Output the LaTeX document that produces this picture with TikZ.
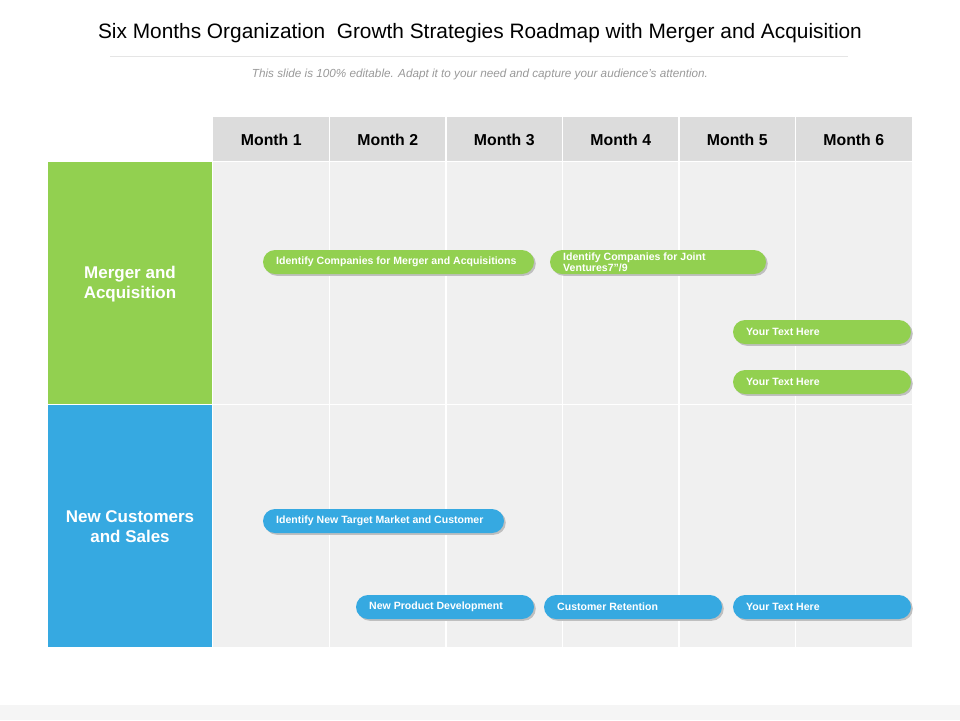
\documentclass[tikz,border=0pt]{standalone}
\usepackage{fontspec}
\setmainfont{Liberation Sans}
\definecolor{barG}{HTML}{92D050}
\definecolor{barB}{HTML}{36A9E1}
\definecolor{gridbg}{HTML}{F0F0F0}
\definecolor{headbg}{HTML}{DCDCDC}
\tikzset{
  bar/.style={rounded corners=12*0.03cm,
    preaction={fill=black!25,transform canvas={xshift=1.5pt,yshift=-1.5pt}}},
  greenbar/.style={bar,fill=barG},
  bluebar/.style={bar,fill=barB},
  bartext/.style={anchor=west,align=left,inner sep=0pt,text=white,font=\fontsize{9}{9.5}\selectfont\bfseries},
  monthhead/.style={font=\fontsize{13.5}{15}\selectfont\bfseries},
  rowhead/.style={text=white,font=\fontsize{14.5}{17}\selectfont\bfseries,align=center}
}
\newcommand{\roadbar}[6]{% style, name, x1, x2, y, text
  \fill[#1] (#3,#5-12) rectangle (#4,#5+12);
  \node[bartext] (#2) at (#3+13,#5) {#6};
}
\begin{document}
\begin{tikzpicture}[x=0.03cm,y=-0.03cm]
  \useasboundingbox (0,0) rectangle (960,720);
  % title
  \node (title) at (480,33) {\fontsize{17.8}{20}\selectfont Six Months Organization\ \ Growth Strategies Roadmap with Merger and Acquisition};
  \draw[black!10] (110,56) -- (848,56);
  \node[text=black!40] (sub) at (480,74) {\fontsize{10}{12}\selectfont\itshape This slide is 100\% editable. Adapt it to your need and capture your audience's attention.};
  % grid
  \fill[headbg] (213,117) rectangle (912,161);
  \fill[gridbg] (213,162) rectangle (912,647);
  \foreach \i in {1,...,5}
    \draw[white,line width=1pt] (213+116.5*\i,117) -- (213+116.5*\i,647);
  \draw[white,line width=1pt] (213,404.5) -- (912,404.5);
  \foreach \i in {1,...,6}
    \node[monthhead] (m\i) at (213+116.5*\i-58.25,140) {Month \i};
  % row labels
  \fill[barG] (48,162) rectangle (212,404);
  \node[rowhead] (rowma) at (130,284) {Merger and\\Acquisition};
  \fill[barB] (48,405) rectangle (212,647);
  \node[rowhead] (rownc) at (130,527) {New Customers\\and Sales};
  % bars
  \roadbar{greenbar}{b1}{263}{534}{262}{Identify Companies for Merger and Acquisitions}
  \roadbar{greenbar}{b2}{550}{766}{262}{Identify Companies for Joint\\Ventures7"/9}
  \roadbar{greenbar}{b3}{733}{911}{332}{Your Text Here}
  \roadbar{greenbar}{b4}{733}{911}{382}{Your Text Here}
  \roadbar{bluebar}{b5}{263}{504}{521}{Identify New Target Market and Customer}
  \roadbar{bluebar}{b6}{356}{534}{607}{New Product Development}
  \roadbar{bluebar}{b7}{544}{722}{607}{Customer Retention}
  \roadbar{bluebar}{b8}{733}{911}{607}{Your Text Here}
  % bottom strip
  \fill[black!4] (0,705) rectangle (960,720);
\end{tikzpicture}
\end{document}
